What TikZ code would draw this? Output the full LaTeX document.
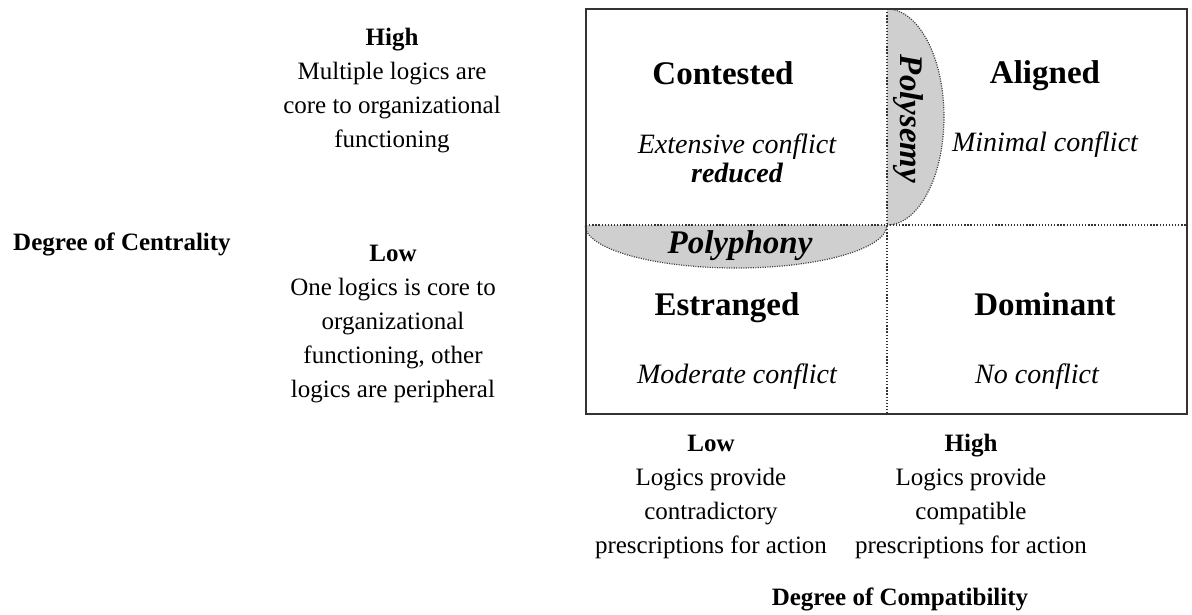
\documentclass[tikz,border=0pt]{standalone}
\usepackage{fontspec}
\setmainfont{Liberation Serif}
\begin{document}
\begin{tikzpicture}[x=1pt,y=-1pt,
  lbl/.style={align=center, inner sep=0pt, anchor=base, font=\fontsize{25}{34}\selectfont},
  quad/.style={inner sep=0pt, anchor=base, font=\fontsize{33}{38}\selectfont\bfseries},
  sub/.style={inner sep=0pt, anchor=base, align=center, font=\fontsize{28}{29}\selectfont\itshape},
  strategy/.style={inner sep=0pt, font=\fontsize{33}{38}\selectfont\bfseries\itshape},
  frame/.style={draw=black!80, line width=1.4pt},
  divider/.style={draw=black!80, line width=1.3pt, dash pattern=on 1.3pt off 1.8pt},
  region/.style={fill=black!19, draw=black!75, line width=1.2pt, dash pattern=on 1.1pt off 1.3pt}]
\useasboundingbox (0,0) rectangle (1192,614);
% grid coordinates
\coordinate (tl) at (586,9);
\coordinate (br) at (1187,414);
\coordinate (mt) at (887,9);
\coordinate (mb) at (887,414);
\coordinate (ml) at (586,225);
\coordinate (mr) at (1187,225);
% shaded regions
\begin{scope}
  \clip (887,0) rectangle (1000,225);
  \path[region] (887,117) ellipse [x radius=57, y radius=108];
\end{scope}
\begin{scope}
  \clip (580,225) rectangle (887,290);
  \path[region] (736,225) ellipse [x radius=151, y radius=43];
\end{scope}
% dividers and frame
\draw[divider] (mt) -- (mb);
\draw[divider] (ml) -- (mr);
\draw[frame] (tl) rectangle (br);
% quadrant texts
\node[quad] (contested) at (723,84) {Contested};
\node[sub] (extensive) at (737,182) {Extensive conflict\\\textbf{reduced}};
\node[quad] (aligned) at (1045,83) {Aligned};
\node[sub] (minimal) at (1045,151) {Minimal conflict};
\node[quad] (estranged) at (727,315) {Estranged};
\node[sub] (moderate) at (737,383) {Moderate conflict};
\node[quad] (dominant) at (1045,315) {Dominant};
\node[sub] (noconflict) at (1037,383) {No conflict};
\node[strategy, anchor=base] (polyphony) at (740,253) {Polyphony};
\node[strategy, rotate=-90] (polysemy) at (908,119) {Polysemy};
% axis texts (base anchor = baseline of last line)
\node[lbl] (cenhigh) at (392,147) {\textbf{High}\\Multiple logics are\\core to organizational\\functioning};
\node[lbl] (cenlow) at (393,397) {\textbf{Low}\\One logics is core to\\organizational\\functioning, other\\logics are peripheral};
\node[lbl, font=\fontsize{25}{34}\selectfont\bfseries] (centrality) at (122,250) {Degree of Centrality};
\node[lbl] (comlow) at (711,553) {\textbf{Low}\\Logics provide\\contradictory\\prescriptions for action};
\node[lbl] (comhigh) at (971,553) {\textbf{High}\\Logics provide\\compatible\\prescriptions for action};
\node[lbl, font=\fontsize{25}{34}\selectfont\bfseries] (compatibility) at (900,605) {Degree of Compatibility};
\end{tikzpicture}
\end{document}
